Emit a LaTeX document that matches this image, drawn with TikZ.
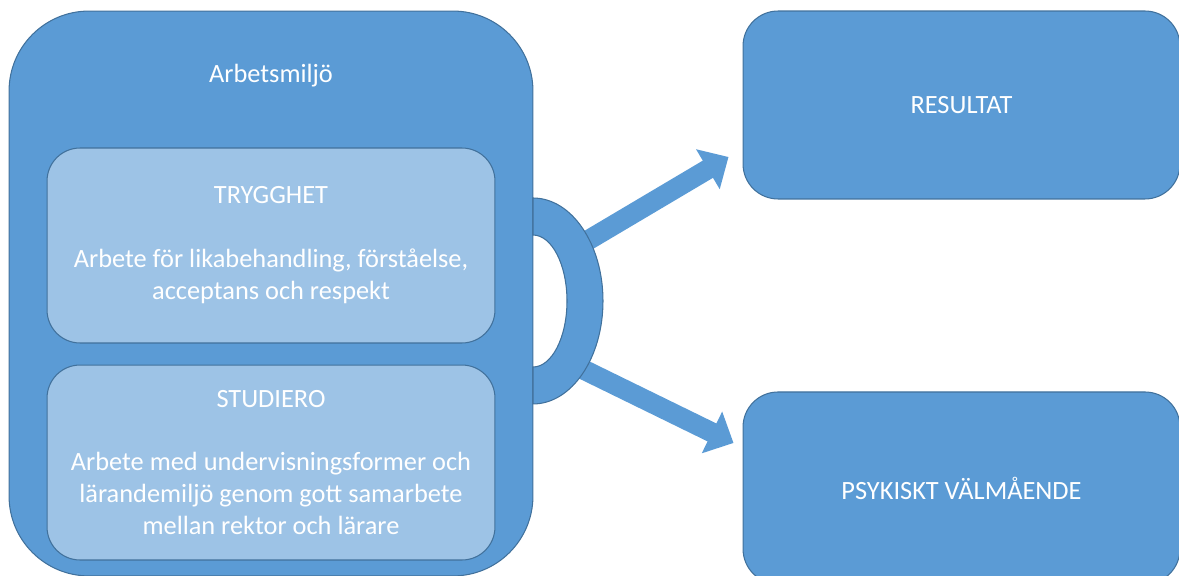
\documentclass[tikz,border=0pt]{standalone}
\usepackage{fontspec}
\setmainfont{Carlito}
\usetikzlibrary{arrows.meta, positioning, calc}
\definecolor{amBlue}{HTML}{5B9BD5}
\definecolor{amEdge}{HTML}{41719C}
\definecolor{amLight}{HTML}{9DC3E6}
\tikzset{
  ambox/.style={
    draw=amEdge, fill=amBlue, line width=0.6pt, inner sep=0pt,
    text=white, align=center, font=\fontsize{15}{18.2}\selectfont
  },
  envbox/.style={ambox, rounded corners=1.6cm, minimum width=10.48cm, minimum height=11.3cm},
  partbox/.style={ambox, fill=amLight, rounded corners=0.66cm, minimum width=8.96cm, minimum height=3.9cm},
  goalbox/.style={ambox, rounded corners=0.7cm, minimum width=8.74cm, minimum height=3.76cm},
  blockarrow/.style={-{Triangle[length=0.48cm, width=0.9cm]}, line width=0.4cm, amBlue},
  ring/.style={draw=amEdge, fill=amBlue, line width=0.6pt, even odd rule},
  boxtitle/.style={text=white, font=\fontsize{15}{18.2}\selectfont, inner sep=0pt}
}

\begin{document}
\begin{tikzpicture}[x=0.02cm, y=0.02cm]
  \useasboundingbox (0,0) rectangle (1179,575);
  \clip (0,0) rectangle (1179,575);
  % work environment with its two parts
  \node[envbox] (env) at (271,281.5) {};
  \node[boxtitle, anchor=base] (envtitle) at (271,492) {Arbetsmiljö};
  \node[partbox] (trygg) at (271,329.5)
   {TRYGGHET\\[18.2pt]
     Arbete för likabehandling, förståelse,\\
     acceptans och respekt};
  \node[partbox, below=0.42cm of trygg] (studiero)
   {STUDIERO\\[18.2pt]
     Arbete med undervisningsformer och\\
     lärandemiljö genom gott samarbete\\
     mellan rektor och lärare};
  % outcomes
  \node[goalbox] (res) at (961.5,470) {RESULTAT};
  \node[goalbox, below=3.84cm of res, minimum height=3.84cm] (psy) {PSYKISKT VÄLMÅENDE};
  \coordinate (ringup) at (575,327);
  \coordinate (ringdown) at (570,212);
  \draw[blockarrow] (ringup) -- ($(res.west)+(-14,-52)$);
  \draw[blockarrow] (ringdown) -- ($(psy.west)+(-9,45)$);
  \draw[ring] (533,377) arc[start angle=90, end angle=-90, x radius=1.4cm, y radius=2.06cm]
    -- (533,208) arc[start angle=-90, end angle=90, x radius=0.68cm, y radius=1.32cm] -- cycle;
\end{tikzpicture}
\end{document}
